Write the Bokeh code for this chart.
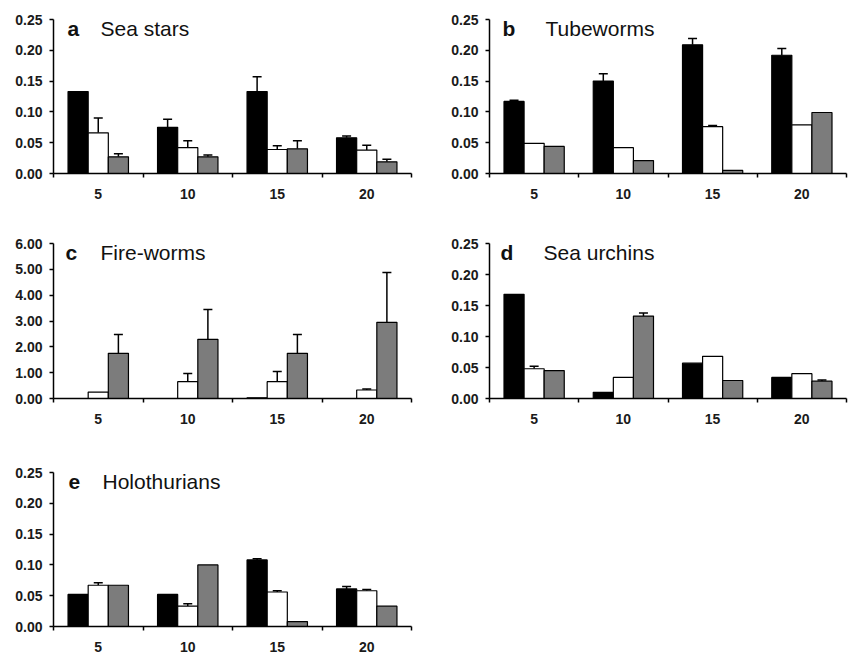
import numpy as np
from bokeh.plotting import figure
from bokeh.models import (Range1d, FixedTicker, NumeralTickFormatter, Label,
                          Whisker, TeeHead, ColumnDataSource)
from bokeh.layouts import column, row
from bokeh.embed import file_html
from bokeh.resources import INLINE

# ---------------- data ----------------
depths = ["5", "10", "15", "20"]

# a  Sea stars
a_black = [0.133, 0.075, 0.133, 0.058]
a_black_se = [0.0, 0.013, 0.024, 0.003]
a_white = [0.066, 0.042, 0.039, 0.038]
a_white_se = [0.024, 0.011, 0.006, 0.008]
a_gray = [0.027, 0.027, 0.040, 0.019]
a_gray_se = [0.005, 0.003, 0.013, 0.004]

# b  Tubeworms
b_black = [0.117, 0.150, 0.209, 0.192]
b_black_se = [0.002, 0.012, 0.010, 0.011]
b_white = [0.049, 0.042, 0.076, 0.079]
b_white_se = [0.0, 0.0, 0.002, 0.0]
b_gray = [0.044, 0.021, 0.005, 0.099]
b_gray_se = [0.0, 0.0, 0.0, 0.0]

# c  Fire-worms
c_black = [0.0, 0.0, 0.03, 0.0]
c_black_se = [0.0, 0.0, 0.0, 0.0]
c_white = [0.25, 0.65, 0.65, 0.33]
c_white_se = [0.0, 0.32, 0.40, 0.04]
c_gray = [1.75, 2.29, 1.75, 2.95]
c_gray_se = [0.73, 1.16, 0.73, 1.93]

# d  Sea urchins
d_black = [0.168, 0.010, 0.057, 0.034]
d_black_se = [0.0, 0.0, 0.0, 0.0]
d_white = [0.048, 0.034, 0.068, 0.040]
d_white_se = [0.004, 0.0, 0.0, 0.0]
d_gray = [0.045, 0.133, 0.029, 0.028]
d_gray_se = [0.0, 0.005, 0.0, 0.002]

# e  Holothurians
e_black = [0.052, 0.052, 0.108, 0.061]
e_black_se = [0.0, 0.0, 0.002, 0.004]
e_white = [0.067, 0.033, 0.056, 0.058]
e_white_se = [0.004, 0.004, 0.002, 0.002]
e_gray = [0.067, 0.100, 0.008, 0.033]
e_gray_se = [0.0, 0.0, 0.0, 0.0]

small_ticks = [0.0, 0.05, 0.10, 0.15, 0.20, 0.25]
fire_ticks = [0.0, 1.0, 2.0, 3.0, 4.0, 5.0, 6.0]

# ---------------- styling ----------------
FONT = "Liberation Sans"
BAR_W = 0.225
COLORS = ["black", "white", "#7c7c7c"]
OFFSETS = [-BAR_W, 0.0, BAR_W]


def make_panel(letter, name, series, ticks, width, height, borders, letter_dx, name_dx):
    top_b, right_b, bottom_b, left_b = borders
    n = len(depths)
    p = figure(width=width, height=height,
               x_range=Range1d(0, n), y_range=Range1d(ticks[0], ticks[-1]),
               output_backend="svg", toolbar_location=None,
               min_border_top=top_b, min_border_right=right_b,
               min_border_bottom=bottom_b, min_border_left=left_b)
    p.grid.visible = False
    p.outline_line_color = None
    p.background_fill_color = "white"
    p.border_fill_color = "white"

    centers = np.arange(n) + 0.5
    for (vals, se), color, off in zip(series, COLORS, OFFSETS):
        vals = np.array(vals, dtype=float)
        se = np.array(se, dtype=float)
        xs = centers + off
        p.vbar(x=xs, top=vals, width=BAR_W, bottom=0,
               fill_color=color, line_color="black", line_width=1.2)
        mask = se > 0
        if mask.any():
            src = ColumnDataSource(dict(x=xs[mask], lower=vals[mask],
                                        upper=(vals + se)[mask]))
            w = Whisker(source=src, base="x", lower="lower", upper="upper",
                        dimension="height", line_color="black", line_width=1.5,
                        lower_head=None,
                        upper_head=TeeHead(size=9, line_color="black", line_width=1.5))
            p.add_layout(w)

    # x axis: labels at category centres, tick marks at boundaries
    xa = p.xaxis[0]
    xa.ticker = FixedTicker(ticks=list(centers), minor_ticks=list(np.arange(n + 1)))
    xa.major_label_overrides = {float(c): d for c, d in zip(centers, depths)}
    xa.major_tick_in = 0
    xa.major_tick_out = 0
    xa.minor_tick_in = 0
    xa.minor_tick_out = 4
    xa.minor_tick_line_width = 1.5
    xa.minor_tick_line_color = "black"
    xa.axis_line_width = 1.5
    xa.axis_line_color = "black"
    xa.major_label_text_font = FONT
    xa.major_label_text_font_style = "bold"
    xa.major_label_text_font_size = "14px"
    xa.major_label_text_color = "#1a1a1a"
    xa.major_label_standoff = 11

    ya = p.yaxis[0]
    ya.ticker = FixedTicker(ticks=ticks, minor_ticks=[])
    ya.formatter = NumeralTickFormatter(format="0.00")
    ya.major_tick_in = 0
    ya.major_tick_out = 4
    ya.major_tick_line_width = 1.5
    ya.major_tick_line_color = "black"
    ya.axis_line_width = 1.5
    ya.axis_line_color = "black"
    ya.major_label_text_font = FONT
    ya.major_label_text_font_style = "bold"
    ya.major_label_text_font_size = "14px"
    ya.major_label_text_color = "#1a1a1a"
    ya.major_label_standoff = 7

    frame_h = height - top_b - bottom_b
    p.add_layout(Label(x=letter_dx, y=frame_h - 9, x_units="screen", y_units="screen",
                       text=letter, text_font=FONT, text_font_style="bold",
                       text_font_size="21px", text_baseline="middle",
                       text_color="#111111"))
    p.add_layout(Label(x=name_dx, y=frame_h - 9, x_units="screen", y_units="screen",
                       text=name, text_font=FONT, text_font_size="21px",
                       text_baseline="middle", text_color="#111111"))
    return p


LW, RW = 428, 422
L_LR = (17, 53)   # right, left borders for left column
R_LR = (4, 61)    # right, left borders for right column

pa = make_panel("a", "Sea stars",
                [(a_black, a_black_se), (a_white, a_white_se), (a_gray, a_gray_se)],
                small_ticks, LW, 224, (19, L_LR[0], 51, L_LR[1]), 14, 47)
pb = make_panel("b", "Tubeworms",
                [(b_black, b_black_se), (b_white, b_white_se), (b_gray, b_gray_se)],
                small_ticks, RW, 224, (19, R_LR[0], 51, R_LR[1]), 13, 56)
pc = make_panel("c", "Fire-worms",
                [(c_black, c_black_se), (c_white, c_white_se), (c_gray, c_gray_se)],
                fire_ticks, LW, 229, (19, L_LR[0], 55, L_LR[1]), 12, 47)
pd = make_panel("d", "Sea urchins",
                [(d_black, d_black_se), (d_white, d_white_se), (d_gray, d_gray_se)],
                small_ticks, RW, 229, (19, R_LR[0], 55, R_LR[1]), 11, 54)
pe = make_panel("e", "Holothurians",
                [(e_black, e_black_se), (e_white, e_white_se), (e_gray, e_gray_se)],
                small_ticks, LW, 201, (19, L_LR[0], 28, L_LR[1]), 15, 49)

layout = column(row(pa, pb), row(pc, pd), row(pe))

open("out.html", "w").write(file_html(layout, INLINE))
